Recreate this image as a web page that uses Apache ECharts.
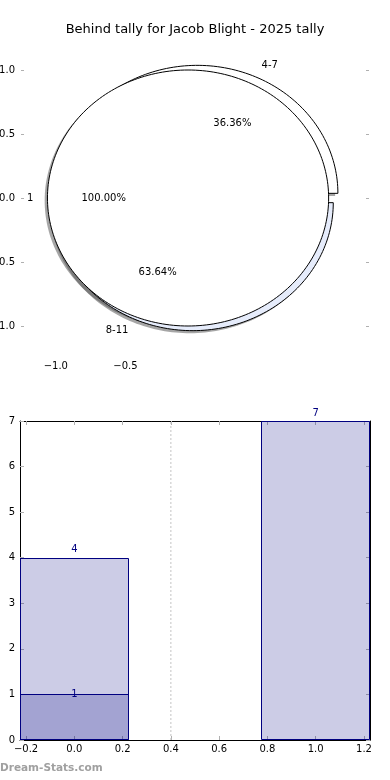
<!DOCTYPE html>
<html><head><meta charset="utf-8">
<script src="https://cdn.jsdelivr.net/npm/echarts@6/dist/echarts.min.js"></script>
<style>html,body{margin:0;padding:0;background:#fff}#c{width:390px;height:780px}</style>
</head><body><div id="c"></div>
<script>
// ---- data ----
const titleText = 'Behind tally for Jacob Blight - 2025 tally';
const outerLabels = ['1'];
const outerValues = [1];
const innerLabels = ['4-7', '8-11'];
const innerValues = [4, 7];
const pieXTicks = [-1.0, -0.5];
const pieYTicks = [1.0, 0.5, 0.0, -0.5, -1.0];
const barX = [0, 1];
const barValues = [4, 7];
const overlayX = [0];
const overlayValues = [1];
const barXTicks = [-0.2, 0.0, 0.2, 0.4, 0.6, 0.8, 1.0, 1.2];
const barYTicks = [0, 1, 2, 3, 4, 5, 6, 7];
const separatorX = [0.4];
const watermark = 'Dream-Stats.com';

// ---- styles ----
const FONT = 'DejaVu Sans';
const TICK_COLOR = '#b0b0b0';
const NAVY = '#000080';
const PIE = {
  outer: {center: [-0.05, 0], rx: 1.01, ry: 1.0, explode: 0, colors: ['#ffffff']},
  inner: {center: [0, 0], rx: 1.01, ry: 1.0, explode: 0.04, colors: ['#ffffff', '#e6ecfb']}
};
const BAR_HALF = 0.225;

function fmt1(v) { return (v < 0 ? '\u2212' : '') + Math.abs(v).toFixed(1); }

function wedgeGeom(values, i, cfg) {
  const total = values.reduce((a, b) => a + b, 0);
  let acc = 0;
  for (let k = 0; k < i; k++) acc += values[k];
  const a0 = acc / total * 2 * Math.PI, a1 = (acc + values[i]) / total * 2 * Math.PI;
  const mid = (a0 + a1) / 2;
  return {a0, a1, mid,
    cx: cfg.center[0] + cfg.explode * Math.cos(mid),
    cy: cfg.center[1] + cfg.explode * Math.sin(mid),
    frac: values[i] / total};
}
function wedgePoints(api, g, cfg, dx, dy) {
  const pts = [];
  const full = g.a1 - g.a0 >= 2 * Math.PI - 1e-9;
  const n = Math.max(8, Math.ceil((g.a1 - g.a0) / (2 * Math.PI) * 240));
  if (!full) pts.push(api.coord([g.cx + dx, g.cy + dy]));
  for (let k = 0; k <= n; k++) {
    const a = g.a0 + (g.a1 - g.a0) * k / n;
    pts.push(api.coord([g.cx + dx + cfg.rx * Math.cos(a), g.cy + dy + cfg.ry * Math.sin(a)]));
  }
  return pts;
}
function pieLayer(labels, values, cfg, layer, z) {
  return {
    type: 'custom', coordinateSystem: 'cartesian2d', xAxisIndex: 0, yAxisIndex: 0, z, silent: true,
    data: values.map(v => [v]), encode: {x: 0, y: 0},
    renderItem(params, api) {
      const i = params.dataIndex;
      const g = wedgeGeom(values, i, cfg);
      if (layer === 'shadow') {
        return {type: 'polygon', shape: {points: wedgePoints(api, g, cfg, -0.02, -0.02)},
          style: {fill: 'rgba(77,77,77,0.5)'}};
      }
      if (layer === 'wedge') {
        return {type: 'polygon', shape: {points: wedgePoints(api, g, cfg, 0, 0)},
          style: {fill: cfg.colors[i % cfg.colors.length], stroke: '#000', lineWidth: 1}};
      }
      const c = Math.cos(g.mid), s = Math.sin(g.mid);
      const lp = api.coord([g.cx + 1.1 * cfg.rx * c, g.cy + 1.1 * cfg.ry * s]);
      const pp = api.coord([g.cx + 0.6 * cfg.rx * c, g.cy + 0.6 * cfg.ry * s]);
      return {type: 'group', children: [
        {type: 'text', x: lp[0], y: lp[1], style: {text: labels[i], font: '10px "DejaVu Sans"', fill: '#000',
          align: c > 0 ? 'left' : 'right', verticalAlign: 'middle'}},
        {type: 'text', x: pp[0], y: pp[1], style: {text: (g.frac * 100).toFixed(2) + '%', font: '10px "DejaVu Sans"', fill: '#000',
          align: 'center', verticalAlign: 'middle'}}
      ]};
    }
  };
}
function barLayer(xs, vs, labelMode, z) {
  return {
    type: 'custom', coordinateSystem: 'cartesian2d', xAxisIndex: 2, yAxisIndex: 2, z, silent: true,
    data: xs.map((x, i) => [x, vs[i]]),
    renderItem(params, api) {
      const x = api.value(0), v = api.value(1);
      const p0 = api.coord([x - BAR_HALF, 0]), p1 = api.coord([x + BAR_HALF, v]);
      const L = Math.round(p0[0]) + 0.5, R = Math.round(p1[0]) - 0.5;
      const T = Math.round(p1[1]) + 0.5, B = Math.round(p0[1]) - 0.5;
      const cx = (p0[0] + p1[0]) / 2;
      return {type: 'group', children: [
        {type: 'rect', shape: {x: L, y: T, width: R - L, height: B - T},
          style: {fill: 'rgba(0,0,128,0.2)', stroke: NAVY, lineWidth: 1}},
        {type: 'text', x: cx, y: labelMode === 'top' ? p1[1] - 3 : p1[1],
          style: {text: String(v), font: '10px "DejaVu Sans"', fill: NAVY, align: 'center',
            verticalAlign: labelMode === 'top' ? 'bottom' : 'middle'}, z2: 10}
      ]};
    }
  };
}

const tickStyle = {lineStyle: {color: TICK_COLOR, width: 1}};
const labelStyle = {fontFamily: FONT, fontSize: 10, color: '#000'};

const option = {
  animation: false,
  backgroundColor: '#fff',
  title: {text: titleText, left: 'center', top: 23, padding: 0,
    textStyle: {fontFamily: FONT, fontSize: 13, fontWeight: 'normal', color: '#000'}},
  graphic: [{type: 'text', left: 0, top: 763,
    style: {text: watermark, font: 'bold 10.5px "DejaVu Sans"', fill: '#a0a0a0'}}],
  grid: [
    {left: 21, right: 21, top: 38, height: 320, containLabel: false, outerBoundsMode: 'none'},
    {left: 20, right: 20, top: 421, bottom: 40, containLabel: false, outerBoundsMode: 'none'}
  ],
  xAxis: [
    {gridIndex: 0, type: 'value', min: -1.25, max: 1.25, position: 'bottom',
      axisLine: {show: false}, splitLine: {show: false},
      axisTick: Object.assign({show: true, inside: true, length: 3, customValues: pieXTicks}, tickStyle),
      axisLabel: Object.assign({customValues: pieXTicks, formatter: fmt1, margin: 3}, labelStyle)},
    {gridIndex: 0, type: 'value', min: -1.25, max: 1.25, position: 'top',
      axisLine: {show: false}, splitLine: {show: false},
      axisTick: Object.assign({show: true, inside: true, length: 3, customValues: pieXTicks}, tickStyle),
      axisLabel: {show: false}},
    {gridIndex: 1, type: 'value', min: -0.225, max: 1.225, position: 'bottom',
      axisLine: {show: true, onZero: false, lineStyle: {color: '#000', width: 1}}, splitLine: {show: false},
      axisTick: Object.assign({show: true, inside: true, length: 4, customValues: barXTicks}, tickStyle),
      axisLabel: Object.assign({customValues: barXTicks, formatter: fmt1, margin: 4}, labelStyle)},
    {gridIndex: 1, type: 'value', min: -0.225, max: 1.225, position: 'top',
      axisLine: {show: true, onZero: false, lineStyle: {color: '#000', width: 1}}, splitLine: {show: false},
      axisTick: Object.assign({show: true, inside: true, length: 4, customValues: barXTicks}, tickStyle),
      axisLabel: {show: false}}
  ],
  yAxis: [
    {gridIndex: 0, type: 'value', min: -1.25, max: 1.25, position: 'left',
      axisLine: {show: false, onZero: false}, splitLine: {show: false},
      axisTick: Object.assign({show: true, inside: true, length: 3, customValues: pieYTicks}, tickStyle),
      axisLabel: Object.assign({customValues: pieYTicks, formatter: fmt1, margin: 6}, labelStyle)},
    {gridIndex: 0, type: 'value', min: -1.25, max: 1.25, position: 'right',
      axisLine: {show: false, onZero: false}, splitLine: {show: false},
      axisTick: Object.assign({show: true, inside: true, length: 3, customValues: pieYTicks}, tickStyle),
      axisLabel: {show: false}},
    {gridIndex: 1, type: 'value', min: 0, max: 7, interval: 1, position: 'left',
      axisLine: {show: true, onZero: false, lineStyle: {color: '#000', width: 1}}, splitLine: {show: false},
      axisTick: Object.assign({show: true, inside: true, length: 4, customValues: barYTicks}, tickStyle),
      axisLabel: Object.assign({customValues: barYTicks, margin: 5}, labelStyle)},
    {gridIndex: 1, type: 'value', min: 0, max: 7, interval: 1, position: 'right',
      axisLine: {show: true, onZero: false, lineStyle: {color: '#000', width: 1}}, splitLine: {show: false},
      axisTick: Object.assign({show: true, inside: true, length: 4, customValues: barYTicks}, tickStyle),
      axisLabel: {show: false}}
  ],
  series: [
    pieLayer(innerLabels, innerValues, PIE.inner, 'shadow', 1),
    pieLayer(outerLabels, outerValues, PIE.outer, 'shadow', 1),
    pieLayer(innerLabels, innerValues, PIE.inner, 'wedge', 2),
    pieLayer(outerLabels, outerValues, PIE.outer, 'wedge', 3),
    pieLayer(innerLabels, innerValues, PIE.inner, 'label', 4),
    pieLayer(outerLabels, outerValues, PIE.outer, 'label', 4),
    {type: 'line', xAxisIndex: 2, yAxisIndex: 2, silent: true, symbol: 'none', z: 1,
      data: [[separatorX[0], 0], [separatorX[0], barYTicks[barYTicks.length - 1]]],
      lineStyle: {color: '#c4c4c4', width: 1, type: [2, 2]}},
    barLayer(barX, barValues, 'top', 2),
    barLayer(overlayX, overlayValues, 'middle', 3)
  ]
};
const chart = echarts.init(document.getElementById('c'));
chart.setOption(option);
</script>
</body></html>
